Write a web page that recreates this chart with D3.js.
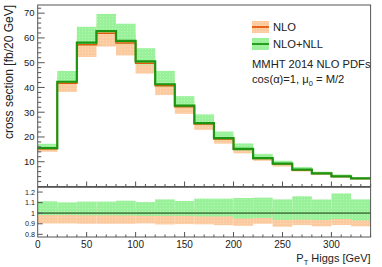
<!DOCTYPE html>
<html>
<head>
<meta charset="utf-8">
<script src="https://cdn.jsdelivr.net/npm/d3@7"></script>
<style>
  body { margin: 0; background: #fff; }
  svg { display: block; font-family: "Liberation Sans", Arial, sans-serif; }
</style>
</head>
<body>
<div id="container"></div>
<script>
'use strict'
// bins of 20 GeV
const binLow = [0, 20, 40, 60, 80, 100, 120, 140, 160, 180, 200, 220, 240, 260, 280, 300, 320];
const binWidth = 20;
// NLO+NLL central value [fb/20 GeV]
const nllCentral = [15.5, 42.3, 58.1, 62.8, 58.8, 50.5, 41.3, 32.7, 25.6, 19.5, 15.2, 11.5, 9.2, 6.8, 5.3, 4.1, 3.3];
// band edges relative to NLO+NLL central (read from ratio pad)
const nllUpRatio = [1.113, 1.103, 1.11, 1.11, 1.118, 1.106, 1.131, 1.116, 1.138, 1.138, 1.144, 1.147, 1.131, 1.16, 1.13, 1.187, 1.131];
const nllDownRatio = [0.982, 0.982, 0.98, 0.98, 0.978, 0.975, 0.975, 0.975, 0.97, 0.97, 0.95, 0.955, 0.937, 0.94, 0.937, 0.945, 0.932];
const nloCentralRatio = [0.985, 0.985, 0.985, 0.985, 0.985, 0.985, 0.985, 0.985, 0.985, 0.985, 0.985, 0.985, 0.985, 0.985, 0.985, 0.985, 0.985];
const nloUpRatio = [1.05, 1.05, 1.05, 1.05, 1.05, 1.05, 1.05, 1.05, 1.05, 1.05, 1.05, 1.05, 1.05, 1.05, 1.05, 1.05, 1.05];
const nloDownRatio = [0.903, 0.903, 0.9, 0.9, 0.9, 0.903, 0.894, 0.897, 0.895, 0.887, 0.881, 0.9, 0.872, 0.888, 0.876, 0.888, 0.876];

const yTicksTop = [10, 20, 30, 40, 50, 60, 70];
const yTicksRatio = [0.8, 0.9, 1, 1.1, 1.2];
const xTicks = [0, 50, 100, 150, 200, 250, 300];

const width = 382, height = 267;
const left = 37.7, right = 370.6;
const topY0 = 5, topY1 = 186.5;
const ratY0 = 187.3, ratY1 = 237;

const green = '#99f199', orange = '#fcca9f';
const greenLine = '#1c9612', orangeLine = '#e4570a';

const svg = d3.select('#container').append('svg')
    .attr('width', width).attr('height', height);

const defs = svg.append('defs');
function dots(id, base, dot) {
  const p = defs.append('pattern').attr('id', id).attr('width', 3).attr('height', 3)
      .attr('patternUnits', 'userSpaceOnUse');
  p.append('rect').attr('width', 3).attr('height', 3).attr('fill', base);
  p.append('rect').attr('x', 1).attr('y', 1).attr('width', 1).attr('height', 1).attr('fill', dot);
}
dots('gdots', green, '#b6f5b6');
dots('odots', orange, '#fdd9ba');

const x = d3.scaleLinear().domain([0, 340]).range([left, right]);
const yTop = d3.scaleLinear().domain([0, 73.3]).range([topY1, topY0]);
const yRat = d3.scaleLinear().domain([0.775, 1.245]).range([ratY1, ratY0]);

const bins = binLow.map((b, i) => ({
  lo: b, hi: b + binWidth,
  c: nllCentral[i],
  nllUp: nllCentral[i] * nllUpRatio[i], nllDn: nllCentral[i] * nllDownRatio[i],
  nlo: nllCentral[i] * nloCentralRatio[i],
  nloUp: nllCentral[i] * nloUpRatio[i], nloDn: nllCentral[i] * nloDownRatio[i],
  rNllUp: nllUpRatio[i], rNllDn: nllDownRatio[i],
  rNloUp: nloUpRatio[i], rNloDn: nloDownRatio[i],
  r: nllCentral[i] / nllCentral[i]
}));

function bands(g, y, lo, hi, fill) {
  g.selectAll(null).data(bins).enter().append('rect')
    .attr('x', d => x(d.lo))
    .attr('width', d => x(d.hi) - x(d.lo))
    .attr('y', d => y(d[hi]))
    .attr('height', d => y(d[lo]) - y(d[hi]))
    .attr('fill', fill);
}
function step(g, y, key, color, w) {
  const pts = bins.map(d => [d.lo, d[key]]);
  pts.push([bins[bins.length - 1].hi, bins[bins.length - 1][key]]);
  g.append('path')
    .attr('d', d3.line().x(d => x(d[0])).y(d => y(d[1])).curve(d3.curveStepAfter)(pts))
    .attr('fill', 'none').attr('stroke', color).attr('stroke-width', w);
}

// top pad
const topPad = svg.append('g');
bands(topPad, yTop, 'nloDn', 'nloUp', 'url(#odots)');
bands(topPad, yTop, 'nllDn', 'nllUp', 'url(#gdots)');
step(topPad, yTop, 'nlo', orangeLine, 1.5);
step(topPad, yTop, 'c', greenLine, 2.2);

// ratio pad
const ratPad = svg.append('g');
bands(ratPad, yRat, 'rNloDn', 'rNloUp', 'url(#odots)');
bands(ratPad, yRat, 'rNllDn', 'rNllUp', 'url(#gdots)');
step(ratPad, yRat, 'r', '#4d854a', 1.8);

// frames
const frame = '#555';
svg.append('rect').attr('x', left).attr('y', topY0).attr('width', right - left).attr('height', topY1 - topY0)
  .attr('fill', 'none').attr('stroke', frame).attr('stroke-width', 1);
svg.append('rect').attr('x', left).attr('y', ratY0).attr('width', right - left).attr('height', ratY1 - ratY0)
  .attr('fill', 'none').attr('stroke', frame).attr('stroke-width', 1);

// ticks (inside, ROOT style)
const tk = svg.append('g').attr('stroke', frame).attr('stroke-width', 1);
d3.range(2, 73, 2).forEach(v => {
  const major = v % 10 === 0;
  tk.append('line').attr('x1', left).attr('x2', left + (major ? 7 : 3.5))
    .attr('y1', yTop(v)).attr('y2', yTop(v));
});
d3.range(10, 341, 10).forEach(v => {
  const major = v % 50 === 0;
  const len = major ? 5 : 2.5;
  tk.append('line').attr('x1', x(v)).attr('x2', x(v)).attr('y1', topY1).attr('y2', topY1 - len);
  tk.append('line').attr('x1', x(v)).attr('x2', x(v)).attr('y1', ratY1).attr('y2', ratY1 - len);
});
yTicksRatio.forEach(v => {
  tk.append('line').attr('x1', left).attr('x2', left + 5).attr('y1', yRat(v)).attr('y2', yRat(v));
});

// labels
const lab = svg.append('g').attr('fill', '#222');
yTicksTop.forEach(v => {
  lab.append('text').attr('x', 34.5).attr('y', yTop(v)).attr('dy', '0.35em')
    .attr('text-anchor', 'end').attr('font-size', 9.5).text(v);
});
yTicksRatio.forEach(v => {
  lab.append('text').attr('x', 35).attr('y', yRat(v)).attr('dy', '0.35em')
    .attr('text-anchor', 'end').attr('font-size', 7.2).text(v);
});
xTicks.forEach(v => {
  lab.append('text').attr('x', x(v)).attr('y', 248)
    .attr('text-anchor', 'middle').attr('font-size', 10).text(v);
});

// axis titles
lab.append('text').attr('transform', 'translate(13,5) rotate(-90)')
  .attr('text-anchor', 'end').attr('font-size', 12).text('cross section [fb/20 GeV]');
const xt = lab.append('text').attr('x', right).attr('y', 262).attr('text-anchor', 'end').attr('font-size', 11);
xt.append('tspan').text('P');
xt.append('tspan').attr('font-size', 7.5).attr('dy', 2.5).text('T');
xt.append('tspan').attr('dy', -2.5).text(' Higgs [GeV]');

// legend
const leg = svg.append('g');
const legItems = [
  { label: 'NLO', fill: 'url(#odots)', line: orangeLine, y: 27 },
  { label: 'NLO+NLL', fill: 'url(#gdots)', line: greenLine, y: 44 }
];
legItems.forEach(d => {
  leg.append('rect').attr('x', 252).attr('y', d.y - 6).attr('width', 17).attr('height', 12).attr('fill', d.fill);
  leg.append('line').attr('x1', 252).attr('x2', 269).attr('y1', d.y).attr('y2', d.y)
    .attr('stroke', d.line).attr('stroke-width', 1.8);
  leg.append('text').attr('x', 273).attr('y', d.y + 4).attr('font-size', 11.2).attr('fill', '#222').text(d.label);
});
leg.append('text').attr('x', 252).attr('y', 68).attr('font-size', 11.2).attr('fill', '#222').text('MMHT 2014 NLO PDFs');
const cosT = leg.append('text').attr('x', 252).attr('y', 83).attr('font-size', 11.2).attr('fill', '#222');
cosT.append('tspan').text('cos(α)=1, μ');
cosT.append('tspan').attr('font-size', 7.5).attr('dy', 3).text('0');
cosT.append('tspan').attr('dy', -3).text(' = M/2');
</script>
</body>
</html>
